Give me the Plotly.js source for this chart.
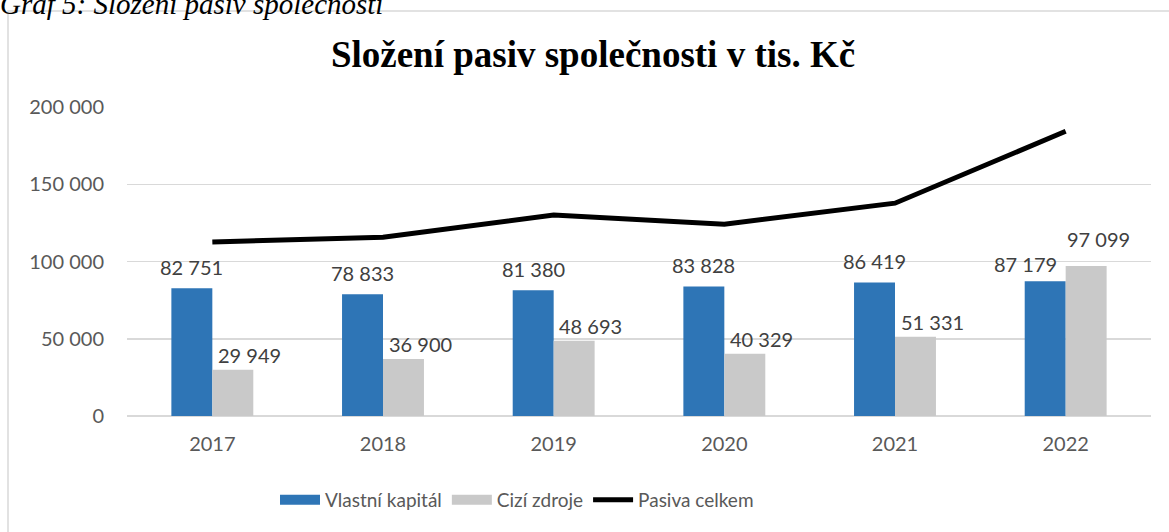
<!DOCTYPE html>
<html>
<head>
<meta charset="utf-8">
<script src="https://cdn.plot.ly/plotly-3.0.1.min.js"></script>
<style>
html,body{margin:0;padding:0;background:#fff;}
#chart{width:1169px;height:532px;}
</style>
</head>
<body>
<div id="chart"></div>
<script>
const years = ['2017', '2018', '2019', '2020', '2021', '2022'];
const vlastniKapital = [82751, 78833, 81380, 83828, 86419, 87179];
const ciziZdroje = [29949, 36900, 48693, 40329, 51331, 97099];
const pasivaCelkem = [112700, 115733, 130073, 124157, 137750, 184278];
const yTicks = [0, 50000, 100000, 150000, 200000];

const seriesNames = ['Vlastní kapitál', 'Cizí zdroje', 'Pasiva celkem'];
const colors = ['#2E75B6', '#C9C9C9', '#000000'];
const labelFont = {family: 'Lato, "Open Sans", sans-serif', size: 20, color: '#404040'};
const axisFont = {family: 'Lato, "Open Sans", sans-serif', size: 20, color: '#595959'};
const legendFont = {family: 'Lato, "Open Sans", sans-serif', size: 19, color: '#595959'};

const W = 1169, H = 532;
const L = 127, R = 18, T = 107, B = 116;
const pw = W - L - R, ph = H - T - B;
const px = x => (x - L) / pw;
const py = y => (H - B - y) / ph;
const fmt = v => String(v).replace(/\B(?=(\d{3})+(?!\d))/g, ' ');

const traces = [
  {
    type: 'bar', x: years, y: vlastniKapital, name: seriesNames[0], showlegend: false,
    marker: {color: colors[0]}, hoverinfo: 'none'
  },
  {
    type: 'bar', x: years, y: ciziZdroje, name: seriesNames[1], showlegend: false,
    marker: {color: colors[1]}, hoverinfo: 'none'
  },
  {
    type: 'scatter', mode: 'lines', x: years, y: pasivaCelkem, name: seriesNames[2], showlegend: false,
    line: {color: colors[2], width: 5}, hoverinfo: 'none'
  },
  // legend-only entries (no marks drawn): wide swatches like the reference
  {type: 'scatter', mode: 'lines', x: [years[0]], y: [null], name: seriesNames[0], line: {color: colors[0], width: 11}, hoverinfo: 'none'},
  {type: 'scatter', mode: 'lines', x: [years[0]], y: [null], name: seriesNames[1], line: {color: colors[1], width: 11}, hoverinfo: 'none'},
  {type: 'scatter', mode: 'lines', x: [years[0]], y: [null], name: seriesNames[2], line: {color: colors[2], width: 5}, hoverinfo: 'none'}
];

// data labels above bars (positioned through the axes; x is the category index)
const annotations = [];
years.forEach((yr, i) => {
  const last = i === years.length - 1;
  annotations.push({
    xref: 'x', yref: 'y', x: i, y: vlastniKapital[i], text: fmt(vlastniKapital[i]),
    xshift: last ? -40 : -20.5, yshift: last ? 3 : 7, yanchor: 'bottom', xanchor: 'center',
    showarrow: false, font: labelFont
  });
  annotations.push({
    xref: 'x', yref: 'y', x: i, y: ciziZdroje[i], text: fmt(ciziZdroje[i]),
    xshift: last ? 33 : 37, yshift: last ? 13 : 1, yanchor: 'bottom', xanchor: 'center',
    showarrow: false, font: labelFont
  });
});
annotations.push({
  text: '<i>Graf 5: Složení pasiv společnosti</i>',
  xref: 'paper', yref: 'paper', x: px(-2), xanchor: 'left', y: py(4), yanchor: 'middle',
  showarrow: false,
  font: {family: '"Liberation Serif", "Times New Roman", serif', size: 29, color: '#000000'}
});

const layout = {
  width: W, height: H,
  margin: {l: L, r: R, t: T, b: B},
  paper_bgcolor: '#ffffff', plot_bgcolor: '#ffffff',
  separators: '. ',
  barmode: 'group', bargap: 0.52, bargroupgap: 0,
  showlegend: true,
  title: {
    text: '<b>Složení pasiv společnosti v tis. Kč</b>',
    font: {family: '"Liberation Serif", "Times New Roman", serif', size: 37, color: '#000000'},
    xref: 'container', yref: 'container', x: 593 / W, xanchor: 'center',
    y: 1 - 54 / H, yanchor: 'middle'
  },
  xaxis: {
    type: 'category', categoryorder: 'array', categoryarray: years,
    range: [-0.5, years.length - 0.5],
    tickfont: axisFont, showgrid: false, showline: false,
    ticks: '', ticklabelstandoff: 14, zeroline: false
  },
  yaxis: {
    range: [0, 200000], tickvals: yTicks, tickformat: ',', tickfont: axisFont,
    showgrid: true, gridcolor: '#D9D9D9', gridwidth: 1.5,
    zeroline: true, zerolinecolor: '#D9D9D9', zerolinewidth: 1.5,
    showline: false, ticks: '', ticklabelstandoff: 22
  },
  legend: {
    orientation: 'h', x: px(275), xanchor: 'left', y: py(500), yanchor: 'middle',
    font: legendFont, itemwidth: 40, traceorder: 'normal', bgcolor: 'rgba(0,0,0,0)'
  },
  shapes: [{
    type: 'rect', xref: 'paper', yref: 'paper', layer: 'below',
    x0: px(8), x1: px(1180), y0: py(545), y1: py(11),
    line: {color: '#D9D9D9', width: 1.5}, fillcolor: 'rgba(0,0,0,0)'
  }],
  annotations: annotations
};

Plotly.newPlot('chart', traces, layout, {displayModeBar: false, staticPlot: true});
</script>
</body>
</html>
